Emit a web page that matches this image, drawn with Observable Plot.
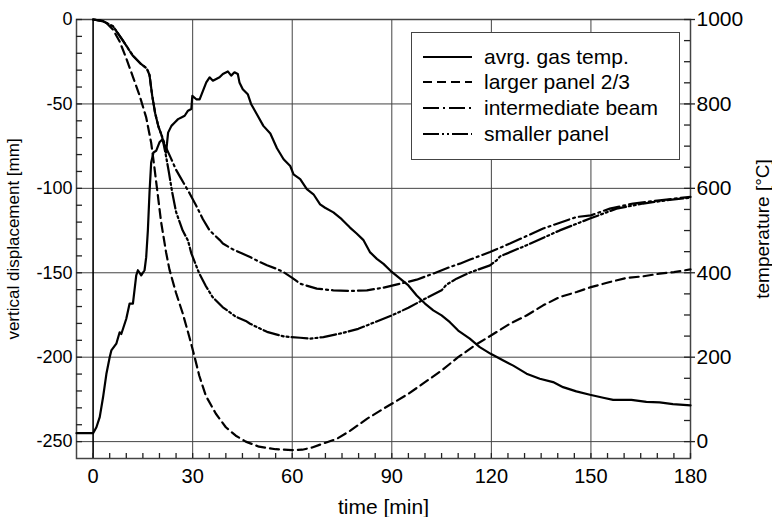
<!DOCTYPE html>
<html>
<head>
<meta charset="utf-8">
<script src="https://cdn.jsdelivr.net/npm/d3@7"></script>
<script src="https://cdn.jsdelivr.net/npm/@observablehq/plot@0.6"></script>
<style>
  body { margin: 0; background: white; }
  #wrap { position: relative; width: 772px; height: 517px; font-family: "Liberation Sans", Arial, sans-serif; }
  #legend { position: absolute; left: 411px; top: 32px; width: 269px; height: 128px; box-sizing: border-box;
            border: 1.5px solid #444; background: white; }
  .row { position: absolute; left: 0; height: 24px; display: flex; align-items: center; }
  .row svg { margin-left: 11px; }
  .row span { margin-left: 12px; font-size: 21px; color: black; white-space: nowrap; }
</style>
</head>
<body>
<div id="wrap"></div>
<script>
// ---- data ----
const seriesNames = ["avrg. gas temp.", "larger panel 2/3", "intermediate beam", "smaller panel"];

const xMajorTicks = [0, 30, 60, 90, 120, 150, 180];
const yMajorTicks = [-250, -200, -150, -100, -50, 0];
const tempMajorTicks = [0, 200, 400, 600, 800, 1000];

// avrg. gas temp. [°C]
const gasTime = [-5,0,1,2,3,4,5,5.5,7,8,8.5,10,11,12,13,13.5,14.5,15.5,16,16.5,17,17.5,18.2,19,20,20.9,21.6,22,22.6,23.6,24.6,25.6,26.6,27.6,28.6,29.6,29.9,31.1,32.1,33.1,34.1,35.1,36.1,37.1,38.1,39.1,40.6,41.6,42.6,43.6,44.1,45.1,46.6,47.6,49.3,51.3,53.4,55.4,57.4,59.4,60.4,62.4,64.4,66.4,68.4,69.9,72.4,74.9,77.4,79.4,81.4,83.4,85.5,87.5,90,92.5,95,97.5,100,102.5,105,107.5,110,113.5,116.5,119.8,123.6,126.6,130.6,134.6,138.6,141.6,145.6,149.7,153.7,156.7,162.2,166.7,170.7,174.7,180];
const gasTemp = [20,20,34,58,105,160,200,216,232,259,255,291,327,327,394,406,394,406,437,500,590,661,685,689,709,716,701,685,732,748,756,764,768,772,784,788,819,811,811,831,851,863,855,859,863,871,877,867,875,871,851,835,823,800,776,748,730,695,669,653,633,622,598,586,562,554,543,527,507,493,478,449,433,421,402,386,370,346,327,311,299,283,263,244,224,208,192,180,161,149,141,129,119,111,104,99,99,94,93,89,86];

// larger panel 2/3 [mm]
const largerTime = [0,2,4,6,8,10,12,14,16,17.5,18.5,19.5,20.5,22,23,25,27,29,30.6,32,34,37,40,43,46,50,55,60,63,66,69.5,73.5,77.5,82.5,87.5,90,95,100,105,110,115,120,125.6,130.6,135.6,140.6,145.7,150,155.7,160.7,165.7,170.7,175,180];
const largerDisp = [0,-0.5,-2,-6,-13,-23,-34,-45,-58,-73,-88,-104,-120,-138,-148,-162,-174,-188,-200,-211,-223,-233.5,-241.5,-246.5,-250,-253,-254.5,-255,-254.8,-253.5,-251,-248.3,-243.5,-236.5,-230.5,-227.6,-221.7,-214.8,-207.9,-200,-193,-187,-180.2,-175.3,-169.3,-164.4,-161.4,-158.5,-155.5,-153.1,-152.1,-150.5,-149.6,-148];

// intermediate beam [mm]
const beamTime = [0,3,6,9,12,14.5,16.2,17,17.8,18.7,19.7,20.8,22,23.3,25,26.3,29.1,31,33.1,35.1,38.1,39.1,42,45.1,47.3,50.1,52.4,55.2,57.4,60,62.4,67.4,72.4,77.4,82.5,87.5,92.5,97.5,102.5,107.5,110.5,113.6,119.6,125.6,135.6,145.6,150,155.7,162.7,170.7,180];
const beamDisp = [0,-1,-4,-12.5,-21.5,-26.5,-29,-33,-45,-55.5,-63.5,-69.5,-76,-81.5,-89,-93.5,-103,-110,-118.3,-124.9,-130.5,-132.7,-136,-138.7,-140.7,-143.5,-145.6,-147.6,-149.6,-153,-156.5,-159.4,-160.4,-160.8,-160.4,-158.8,-156.5,-154.1,-150.5,-146.6,-144.6,-142.2,-137.7,-132.7,-123.8,-117,-116,-112,-109,-107.1,-105];

// smaller panel [mm]
const smallerTime = [0,3,6,9,12,14.5,16.2,17,17.8,18.7,19.7,20.8,21.8,22.8,23.8,25,27,28.6,29.6,32,34,36,39,43,46,47.3,52.4,57.4,62.4,65.4,69.4,74.9,79.9,85,90,95,100,105,106.5,109.5,113.6,119.6,121.6,122.6,130.6,140.6,149.7,157.7,165.7,172.7,180];
const smallerDisp = [0,-1,-4,-12.5,-21.5,-26.5,-29,-33,-45,-55.5,-63.5,-69.5,-79,-90,-102,-114,-125,-131,-138.5,-150.5,-158,-164.4,-170.3,-176,-178.5,-180.2,-185,-187.7,-188.5,-189,-188.1,-185.8,-183.2,-179.2,-175.3,-170.7,-165.4,-160.4,-157,-153.5,-149.8,-145.6,-142.6,-140.3,-133.7,-124.9,-117.9,-112,-109,-107.1,-105.5];

// ---- build ----
const toDisp = T => T / 4 - 250;   // right axis (temperature) mapped onto displacement scale
const gas = gasTime.map((t, i) => ({t, y: toDisp(gasTemp[i])}));
const larger = largerTime.map((t, i) => ({t, y: largerDisp[i]}));
const beam = beamTime.map((t, i) => ({t, y: beamDisp[i]}));
const smaller = smallerTime.map((t, i) => ({t, y: smallerDisp[i]}));

const dashes = [null, "9,5", "16,4,2,4", "16,3,2,3,2,3"];

const xMinor = d3.range(0, 181, 5);
const yMinor = d3.range(-250, 1, 10);
const tempMinor = d3.range(0, 1001, 50).map(toDisp);

const W = 772, H = 517, mL = 76, mR = 82, mT = 19, mB = 59;
const frameW = W - mL - mR, frameH = H - mT - mB;

const grid = "#444";
const tickColor = "#222";
const chart = Plot.plot({
  width: W, height: H,
  marginLeft: mL, marginRight: mR, marginTop: mT, marginBottom: mB,
  x: {domain: [-5, 180]},
  y: {domain: [-260, 0]},
  style: {fontFamily: '"Liberation Sans", Arial, sans-serif', background: "white", color: "black"},
  marks: [
    Plot.gridX(xMajorTicks.filter(v => v !== 0), {stroke: grid, strokeOpacity: 1, strokeWidth: 1}),
    Plot.gridY(yMajorTicks, {stroke: grid, strokeOpacity: 1, strokeWidth: 1}),
    Plot.ruleX([0], {stroke: "black", strokeWidth: 1.6}),
    Plot.frame({stroke: grid, strokeWidth: 1.5}),
    // inward minor ticks
    Plot.ruleY(yMinor, {insetRight: frameW - 6, stroke: tickColor, strokeWidth: 1.3}),
    Plot.ruleX(xMinor, {insetTop: frameH - 5, stroke: tickColor, strokeWidth: 1.3}),
    Plot.ruleY(tempMinor, {insetLeft: frameW - 6, stroke: tickColor, strokeWidth: 1.3}),
    // outward major ticks on the right
    Plot.ruleY(tempMajorTicks.map(toDisp), {insetLeft: frameW, insetRight: -5, stroke: tickColor, strokeWidth: 1.3}),
    // left axis
    Plot.axisY(yMajorTicks, {anchor: "left", tickSize: 0, tickPadding: 4, fontSize: 18, label: null,
      tickFormat: d => String(d)}),
    // bottom axis
    Plot.axisX(xMajorTicks, {anchor: "bottom", tickSize: 0, tickPadding: 10, fontSize: 20, label: null,
      tickFormat: d => String(d)}),
    // right axis (temperature)
    Plot.axisY(tempMajorTicks.map(toDisp), {anchor: "right", tickSize: 0, tickPadding: 6, fontSize: 21,
      tickFormat: d => String(Math.round((d + 250) * 4)), label: null}),
    // axis titles
    Plot.text(["vertical displacement [mm]"], {frameAnchor: "left", dx: -63, rotate: -90, textAnchor: "middle", fontSize: 17}),
    Plot.text(["temperature [°C]"], {frameAnchor: "right", dx: 72, dy: -10, rotate: -90, textAnchor: "middle", fontSize: 19}),
    Plot.text(["time [min]"], {frameAnchor: "bottom", dy: 41, lineAnchor: "top", textAnchor: "middle", fontSize: 21}),
    // series
    Plot.line(gas, {x: "t", y: "y", stroke: "black", strokeWidth: 2.2}),
    Plot.line(larger, {x: "t", y: "y", stroke: "black", strokeWidth: 2.2, strokeDasharray: dashes[1]}),
    Plot.line(beam, {x: "t", y: "y", stroke: "black", strokeWidth: 2.2, strokeDasharray: dashes[2]}),
    Plot.line(smaller, {x: "t", y: "y", stroke: "black", strokeWidth: 2.2, strokeDasharray: dashes[3]})
  ]
});
const wrap = document.getElementById("wrap");
wrap.appendChild(chart);

// legend overlay
const legend = document.createElement("div");
legend.id = "legend";
const rowCenters = [25.7, 50.7, 76.3, 102.3];
seriesNames.forEach((name, i) => {
  const row = document.createElement("div");
  row.className = "row";
  row.style.top = (rowCenters[i] - 12 - 1.5) + "px";
  const da = dashes[i] ? ` stroke-dasharray="${dashes[i]}"` : "";
  row.innerHTML = `<svg width="49" height="24"><line x1="0" x2="49" y1="12" y2="12" stroke="black" stroke-width="2.2"${da}/></svg><span>${name}</span>`;
  legend.appendChild(row);
});
wrap.appendChild(legend);
</script>
</body>
</html>
